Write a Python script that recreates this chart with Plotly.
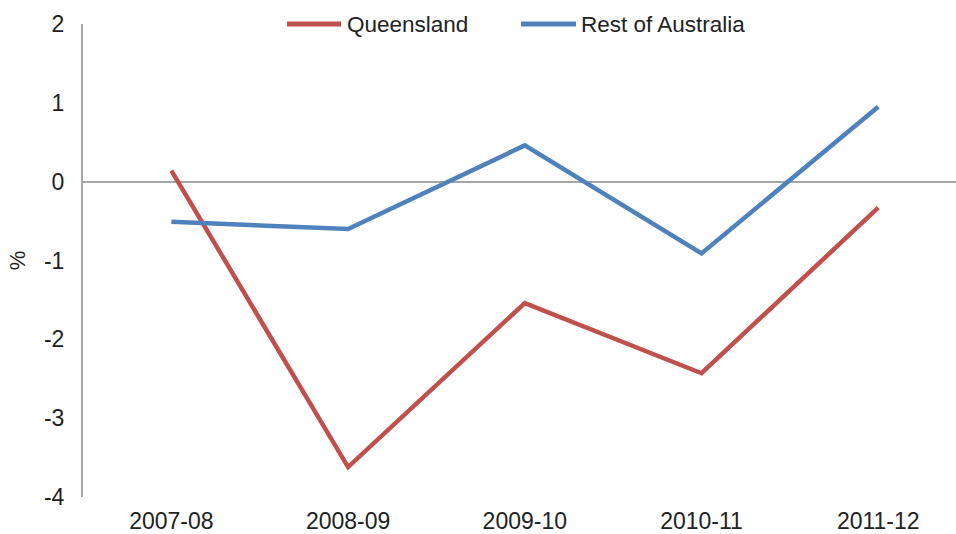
import plotly.graph_objects as go

years = ["2007-08", "2008-09", "2009-10", "2010-11", "2011-12"]
queensland = [0.14, -3.62, -1.54, -2.43, -0.33]
rest_of_australia = [-0.51, -0.60, 0.46, -0.91, 0.95]
y_ticks = [-4, -3, -2, -1, 0, 1, 2]
y_tick_text = ["-4", "-3", "-2", "-1", "0", "1", "2"]
series_names = ["Queensland", "Rest of Australia"]
series_colors = ["#C0504D", "#4F81BD"]

font = "Liberation Sans, Arial, sans-serif"
txt = "#222222"

fig = go.Figure()
for name, vals, col in zip(series_names, [queensland, rest_of_australia], series_colors):
    fig.add_trace(go.Scatter(x=years, y=vals, mode="lines", name=name,
                             line=dict(color=col, width=4.5), showlegend=False))

# manual legend (line swatch + label), positioned in pixels converted to paper coords
L, R, T, B = 83, 0, 24, 37
W, H = 956, 534
pw, ph = W - L - R, H - T - B
def px(x):
    return (x - L) / pw
def py(y):
    return 1 - (y - T) / ph

legend_items = [(287, 341, 345), (521, 576, 579)]
for (x0, x1, xt), name, col in zip(legend_items, series_names, series_colors):
    fig.add_shape(type="line", xref="paper", yref="paper", x0=px(x0), x1=px(x1),
                  y0=py(24), y1=py(24), line=dict(color=col, width=5))
    fig.add_annotation(xref="paper", yref="paper", x=px(xt), y=py(24), text=name,
                       showarrow=False, xanchor="left", yanchor="middle",
                       font=dict(size=22.5, family=font, color=txt))

fig.update_layout(
    width=W, height=H,
    margin=dict(l=L, r=R, t=T, b=B),
    plot_bgcolor="white", paper_bgcolor="white",
    font=dict(family=font, size=23, color=txt),
    showlegend=False,
    xaxis=dict(type="category", range=[-0.5, 4.44], showline=False, showgrid=False,
               zeroline=False, ticks="", ticklabelstandoff=8, automargin=False,
               tickfont=dict(size=23, family=font, color=txt)),
    yaxis=dict(range=[-4, 2], tickvals=y_ticks, ticktext=y_tick_text, showgrid=False,
               showline=True, linecolor="#A6A6A6", linewidth=2, zeroline=True,
               zerolinecolor="#A6A6A6", zerolinewidth=2, ticks="", ticklabelstandoff=12,
               automargin=False,
               tickfont=dict(size=23, family=font, color=txt),
               title=dict(text="%", standoff=12, font=dict(size=22, family=font, color=txt))),
)

fig.write_html("out.html", config={"displayModeBar": False},
               post_script="document.body.style.margin='0';document.body.style.overflow='hidden';")
